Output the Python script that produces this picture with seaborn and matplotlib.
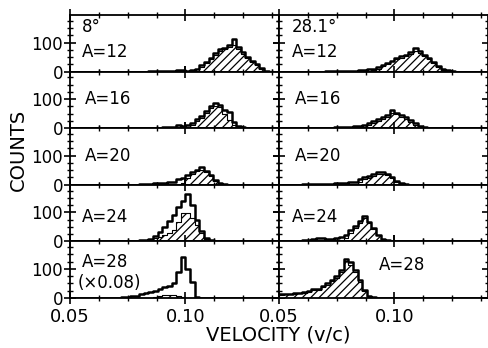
import numpy as np
import pandas as pd
import matplotlib
matplotlib.use("Agg")
import matplotlib.pyplot as plt
from matplotlib.ticker import FixedLocator, MultipleLocator
import seaborn as sns

sns.set_style("ticks")
plt.rcParams['font.family'] = ['DejaVu Sans']
plt.rcParams['hatch.linewidth'] = 0.9
plt.rcParams['text.color'] = 'black'
plt.rcParams['xtick.color'] = 'black'
plt.rcParams['ytick.color'] = 'black'

# ---------------- data ----------------
bin_width = 0.002
v_min, v_max = 0.050, 0.140
mass_labels = ["A=12", "A=16", "A=20", "A=24", "A=28"]
angle_labels = ["8°", "28.1°"]
x_tick_labels = ["0.05", "0.10"]
y_tick_labels = ["0", "100"]

# 8 degrees (left column): start velocity of first bin + counts per 0.002 bin
l12_start, l12_total = 0.084, [2, 2, 3, 2, 3, 3, 5, 7, 3, 5, 10, 22, 33, 48, 64, 76, 82, 92, 112, 84, 68, 50, 38, 26, 11, 3]
l12_hstart, l12_hatch = 0.104, [3, 15, 28, 44, 58, 70, 76, 84, 90, 78, 62, 46, 34, 22, 8]
l16_start, l16_total = 0.084, [2, 2, 2, 3, 3, 4, 10, 7, 10, 18, 30, 42, 58, 75, 85, 80, 62, 55, 20, 8, 3]
l16_hstart, l16_hatch = 0.100, [4, 12, 24, 36, 52, 68, 76, 72, 50, 28, 12, 4]
l20_start, l20_total = 0.080, [2, 3, 4, 5, 6, 6, 8, 11, 18, 24, 32, 45, 52, 60, 48, 34, 17, 6, 2]
l20_hstart, l20_hatch = 0.098, [6, 22, 38, 46, 52, 44, 30, 14, 4]
l24_start, l24_total = 0.076, [2, 2, 3, 4, 8, 18, 32, 50, 70, 92, 118, 140, 162, 125, 72, 35, 10, 3]
l24_hstart, l24_hatch = 0.084, [5, 10, 14, 22, 28, 40, 65, 98, 98, 80, 55, 28, 8]
l28_start, l28_total = 0.072, [2, 3, 5, 8, 12, 16, 20, 25, 30, 36, 42, 52, 90, 140, 100, 56, 3]
l28_hstart, l28_hatch = 0.086, [3, 6, 9, 10, 9, 6, 3]

# 28.1 degrees (right column)
r12_start, r12_total = 0.070, [2, 2, 2, 3, 2, 3, 3, 4, 5, 8, 10, 16, 24, 30, 38, 46, 52, 58, 66, 82, 70, 56, 46, 32, 18, 10, 5, 2]
r12_hstart, r12_hatch = 0.090, [4, 10, 20, 27, 35, 42, 48, 54, 60, 72, 64, 52, 42, 28, 15, 7, 3]
r16_start, r16_total = 0.068, [2, 2, 2, 3, 3, 4, 5, 7, 9, 12, 18, 24, 30, 38, 45, 62, 52, 46, 38, 27, 16, 8, 3]
r16_hstart, r16_hatch = 0.086, [5, 12, 18, 25, 32, 40, 52, 47, 40, 33, 22, 12, 5]
r20_start, r20_total = 0.060, [3, 3, 3, 4, 3, 4, 4, 5, 5, 7, 8, 10, 18, 25, 30, 38, 43, 44, 36, 25, 14, 6, 2]
r20_hstart, r20_hatch = 0.084, [8, 18, 24, 30, 36, 38, 32, 22, 11, 4]
r24_start, r24_total = 0.058, [2, 3, 3, 8, 12, 10, 7, 8, 10, 15, 22, 38, 52, 70, 88, 68, 45, 22, 8, 3]
r24_hstart, r24_hatch = 0.074, [3, 6, 13, 30, 46, 62, 80, 64, 42, 20, 6]
r28_start, r28_total = 0.050, [12, 15, 14, 17, 18, 20, 24, 32, 30, 40, 50, 62, 75, 95, 135, 122, 95, 62, 28, 7, 2]
r28_hstart, r28_hatch = 0.050, [10, 13, 12, 15, 16, 18, 21, 28, 27, 36, 46, 57, 70, 88, 126, 114, 88, 56, 24, 5, 1]

panels = [
    [(l12_start, l12_total, l12_hstart, l12_hatch), (r12_start, r12_total, r12_hstart, r12_hatch)],
    [(l16_start, l16_total, l16_hstart, l16_hatch), (r16_start, r16_total, r16_hstart, r16_hatch)],
    [(l20_start, l20_total, l20_hstart, l20_hatch), (r20_start, r20_total, r20_hstart, r20_hatch)],
    [(l24_start, l24_total, l24_hstart, l24_hatch), (r24_start, r24_total, r24_hstart, r24_hatch)],
    [(l28_start, l28_total, l28_hstart, l28_hatch), (r28_start, r28_total, r28_hstart, r28_hatch)],
]

nbins = int(round((v_max - v_min) / bin_width))
edges = [round(v_min + bin_width * k, 5) for k in range(nbins + 1)]
centers = [0.5 * (edges[k] + edges[k + 1]) for k in range(nbins)]


def panel_frame(start, counts):
    arr = np.zeros(nbins)
    i = int(round((start - v_min) / bin_width))
    arr[i:i + len(counts)] = counts
    return pd.DataFrame({"velocity": centers, "counts": arr})


# ---------------- figure ----------------
fig = plt.figure(figsize=(4.89, 3.48), dpi=100)
gs = fig.add_gridspec(5, 2, left=0.143, right=0.998, top=0.957, bottom=0.144,
                      hspace=0, wspace=0)

# label positions (axes fraction)
left_text = [[("8°", 0.057, 0.79), ("A=12", 0.057, 0.34)],
             [("A=16", 0.07, 0.51)],
             [("A=20", 0.07, 0.51)],
             [("A=24", 0.057, 0.43)],
             [("A=28", 0.057, 0.64), ("(×0.08)", 0.035, 0.27)]]
right_text = [[("28.1°", 0.062, 0.79), ("A=12", 0.062, 0.34)],
              [("A=16", 0.077, 0.51)],
              [("A=20", 0.077, 0.51)],
              [("A=24", 0.062, 0.43)],
              [("A=28", 0.48, 0.58)]]

for r in range(5):
    for c in range(2):
        ax = fig.add_subplot(gs[r, c])
        start, tot, hstart, hat = panels[r][c]
        sns.histplot(data=panel_frame(hstart, hat), x="velocity", weights="counts",
                     bins=edges, element="step", fill=True, facecolor="white",
                     edgecolor="black", linewidth=0.8, hatch="////", ax=ax)
        sns.histplot(data=panel_frame(start, tot), x="velocity", weights="counts",
                     bins=edges, element="step", fill=False, color="black",
                     linewidth=1.8, ax=ax)
        ax.set_xlim(0.05, 0.1405)
        ax.set_ylim(0, 195)
        ax.set_xlabel("")
        ax.set_ylabel("")
        ax.xaxis.set_major_locator(FixedLocator([0.05, 0.10]))
        ax.xaxis.set_minor_locator(FixedLocator([0.0625, 0.075, 0.0875, 0.1125, 0.125, 0.1375]))
        ax.yaxis.set_major_locator(FixedLocator([0, 100]))
        ax.yaxis.set_minor_locator(MultipleLocator(25))
        ax.tick_params(which="both", direction="inout", top=True, right=True,
                       bottom=True, left=True, colors="black")
        ax.tick_params(which="major", length=8, width=1.2, labelsize=12, pad=1)
        ax.tick_params(axis="x", which="major", pad=3)
        ax.tick_params(which="minor", length=5, width=1.0)
        for sp in ax.spines.values():
            sp.set_linewidth(1.3)
            sp.set_color("black")
        if c == 0:
            ax.set_yticklabels(y_tick_labels)
        else:
            ax.set_yticklabels([])
        if r == 4:
            ax.set_xticklabels(x_tick_labels, fontsize=13)
        else:
            ax.set_xticklabels([])
        texts = left_text[r] if c == 0 else right_text[r]
        for t, tx, ty in texts:
            ax.text(tx, ty, t, transform=ax.transAxes, ha="left", va="center",
                    fontsize=12, color="black")

fig.text(18 / 489, 1 - 150 / 348, "COUNTS", rotation=90, ha="center", va="center",
         fontsize=14, color="black")
fig.text(278 / 489, 1 - 335 / 348, "VELOCITY (v/c)", ha="center", va="center",
         fontsize=14, color="black")

fig.savefig("out.png", dpi=100, facecolor="white")
